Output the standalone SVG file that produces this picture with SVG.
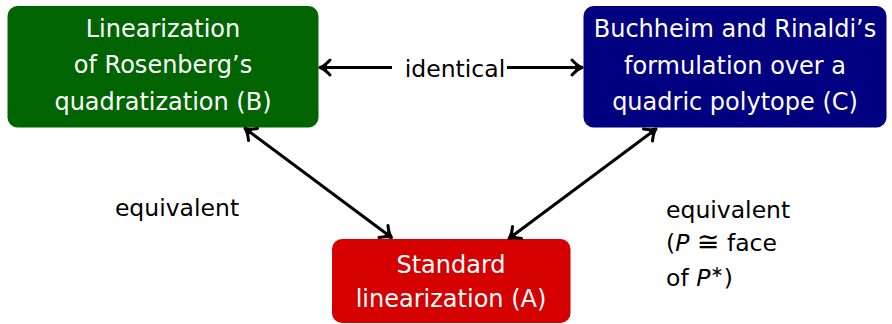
<svg xmlns="http://www.w3.org/2000/svg" width="892" height="324" viewBox="0 0 892 324">
<style>
.node text{font-family:"DejaVu Sans",sans-serif;font-size:24px;fill:#fff;text-anchor:middle}
.lbl{font-family:"DejaVu Sans",sans-serif;font-size:23.5px;fill:#000}
.edge{stroke:#000;stroke-width:3;fill:none}
</style>
<defs>
<marker id="arr" viewBox="-14 -10 16 20" refX="0" refY="0" markerWidth="16" markerHeight="20" markerUnits="userSpaceOnUse" orient="auto-start-reverse">
<path d="M-10,-7.5 Q-4.5,-1.5 0,0 Q-4.5,1.5 -10,7.5" fill="none" stroke="#000" stroke-width="3" stroke-linecap="round" stroke-linejoin="round"/>
<path d="M-7,-3.5 Q-3,-0.8 0,0 Q-3,0.8 -7,3.5 Z" fill="#000"/>
</marker>
</defs>
<rect width="892" height="324" fill="#fff"/>
<g id="B" class="node">
<rect x="7.5" y="6" width="311" height="121.5" rx="10" fill="#006400"/>
<text x="163" y="36.5">Linearization</text>
<text x="163" y="73">of Rosenberg’s</text>
<text x="163" y="109.5">quadratization (B)</text>
</g>
<g id="C" class="node">
<rect x="583.5" y="6" width="303" height="121.5" rx="10" fill="#000080"/>
<text x="735" y="37">Buchheim and Rinaldi’s</text>
<text x="735" y="73.5">formulation over a</text>
<text x="735" y="110">quadric polytope (C)</text>
</g>
<g id="A" class="node">
<rect x="332" y="239" width="238.5" height="84" rx="10" fill="#d50000"/>
<text x="451" y="272.5">Standard</text>
<text x="451" y="307">linearization (A)</text>
</g>
<g id="connectors">
<line class="edge" x1="392" y1="67.5" x2="320" y2="67.5" marker-end="url(#arr)"/>
<line class="edge" x1="507" y1="67.5" x2="582" y2="67.5" marker-end="url(#arr)"/>
<line class="edge" x1="245" y1="128.5" x2="391.5" y2="237.5" marker-start="url(#arr)" marker-end="url(#arr)"/>
<line class="edge" x1="656" y1="129" x2="509" y2="238.5" marker-start="url(#arr)" marker-end="url(#arr)"/>
<text class="lbl" x="455" y="77" text-anchor="middle">identical</text>
<text class="lbl" x="177" y="216" text-anchor="middle">equivalent</text>
<text class="lbl" x="666" y="217.5">equivalent</text>
<text class="lbl" x="666" y="251">(<tspan font-style="italic">P</tspan> <tspan font-size="27">≅</tspan> face</text>
<text class="lbl" x="666" y="286">of <tspan font-style="italic">P</tspan><tspan font-size="16" dy="-9">∗</tspan><tspan dy="9">)</tspan></text>
</g>
</svg>
